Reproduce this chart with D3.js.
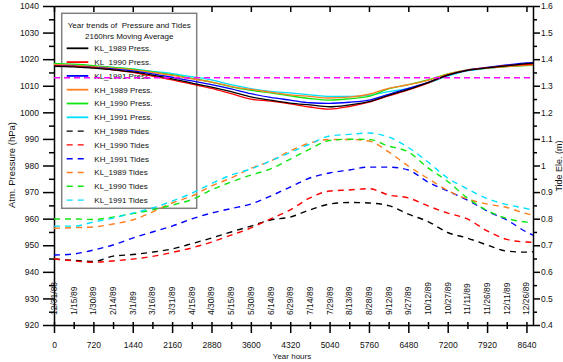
<!DOCTYPE html>
<html>
<head>
<meta charset="utf-8">
<script src="https://cdn.jsdelivr.net/npm/d3@7"></script>
<style>
  body { margin: 0; background: #fff; }
  text { font-family: "Liberation Sans", Arial, sans-serif; fill: #111; }
</style>
</head>
<body>
<div id="chart"></div>
<script>
// sample hours (every 15 days + year end)
const hours = [0, 360, 720, 1080, 1440, 1800, 2160, 2520, 2880, 3240, 3600, 3960, 4320,
  4680, 5040, 5400, 5760, 6120, 6480, 6840, 7200, 7560, 7920, 8280, 8640, 8760];

const dateLabels = ["12/31/88", "1/15/89", "1/30/89", "2/14/89", "3/1/89", "3/16/89", "3/31/89",
  "4/15/89", "4/30/89", "5/15/89", "5/30/89", "6/14/89", "6/29/89", "7/14/89", "7/29/89",
  "8/13/89", "8/28/89", "9/12/89", "9/27/89", "10/12/89", "10/27/89", "11/11/89", "11/26/89",
  "12/11/89", "12/26/89"];

// pressure, hPa (left axis)
const klPress1989 = [1017.3, 1017.1, 1016.6, 1016.0, 1015.2, 1014.0, 1012.6, 1011.0, 1009.5, 1007.8, 1005.8, 1004.6, 1003.5, 1002.8, 1002.1, 1002.8, 1004.0, 1006.4, 1008.6, 1011.2, 1014.0, 1015.8, 1016.7, 1017.5, 1018.3, 1018.5];
const klPress1990 = [1017.5, 1017.3, 1016.8, 1016.0, 1015.0, 1013.6, 1012.2, 1010.6, 1009.0, 1007.0, 1005.0, 1004.2, 1003.2, 1002.0, 1001.2, 1002.2, 1003.8, 1006.2, 1008.4, 1011.0, 1014.0, 1015.8, 1016.8, 1017.6, 1018.0, 1018.1];
const klPress1991 = [1017.6, 1017.4, 1016.9, 1016.3, 1015.6, 1014.5, 1013.2, 1011.8, 1010.4, 1008.8, 1007.0, 1005.6, 1004.6, 1003.6, 1003.4, 1003.8, 1004.6, 1006.8, 1009.0, 1011.3, 1014.0, 1015.9, 1016.9, 1017.8, 1018.6, 1018.7];
const khPress1989 = [1017.9, 1017.7, 1017.2, 1016.6, 1016.0, 1015.0, 1013.9, 1012.6, 1011.4, 1009.8, 1008.6, 1007.6, 1006.6, 1006.0, 1005.4, 1005.7, 1006.8, 1009.0, 1010.4, 1012.0, 1014.4, 1016.0, 1016.6, 1017.2, 1017.8, 1017.9];
const khPress1990 = [1018.4, 1018.1, 1017.6, 1016.9, 1016.2, 1015.2, 1014.2, 1012.8, 1011.4, 1009.6, 1008.3, 1007.3, 1006.2, 1005.2, 1004.6, 1005.1, 1006.0, 1008.8, 1010.4, 1012.2, 1014.5, 1016.0, 1016.6, 1017.2, 1017.6, 1017.7];
const khPress1991 = [1018.0, 1017.8, 1017.4, 1016.9, 1016.3, 1015.4, 1014.6, 1013.4, 1012.2, 1010.4, 1008.9, 1007.9, 1007.3, 1006.6, 1006.0, 1006.0, 1006.4, 1007.8, 1009.0, 1011.0, 1013.6, 1015.6, 1016.5, 1017.3, 1018.0, 1018.1];

// tide elevation, m (right axis)
const khTide1989 = [0.648, 0.643, 0.639, 0.659, 0.665, 0.674, 0.686, 0.706, 0.727, 0.750, 0.772, 0.795, 0.806, 0.833, 0.855, 0.861, 0.859, 0.849, 0.817, 0.789, 0.748, 0.727, 0.701, 0.678, 0.674, 0.676];
const khTide1990 = [0.649, 0.641, 0.636, 0.641, 0.648, 0.658, 0.673, 0.690, 0.712, 0.738, 0.765, 0.799, 0.833, 0.878, 0.904, 0.908, 0.913, 0.889, 0.878, 0.848, 0.821, 0.799, 0.754, 0.722, 0.712, 0.711];
const khTide1991 = [0.663, 0.667, 0.682, 0.701, 0.727, 0.750, 0.772, 0.799, 0.821, 0.838, 0.855, 0.885, 0.919, 0.953, 0.972, 0.983, 0.994, 0.994, 0.983, 0.938, 0.904, 0.870, 0.829, 0.795, 0.750, 0.738];
const klTide1989 = [0.764, 0.766, 0.769, 0.780, 0.795, 0.825, 0.859, 0.885, 0.923, 0.953, 0.989, 1.017, 1.055, 1.085, 1.098, 1.098, 1.092, 1.051, 0.998, 0.951, 0.906, 0.874, 0.855, 0.842, 0.819, 0.814];
const klTide1990 = [0.799, 0.799, 0.797, 0.806, 0.819, 0.833, 0.851, 0.872, 0.908, 0.938, 0.964, 0.987, 1.024, 1.062, 1.094, 1.099, 1.098, 1.073, 1.051, 0.991, 0.940, 0.878, 0.831, 0.801, 0.787, 0.785];
const klTide1991 = [0.772, 0.772, 0.787, 0.802, 0.821, 0.840, 0.866, 0.896, 0.932, 0.964, 0.987, 1.017, 1.049, 1.081, 1.111, 1.117, 1.122, 1.107, 1.068, 1.013, 0.953, 0.912, 0.876, 0.853, 0.838, 0.832];

const meanPressure = 1013;

const pressSeries = [
  { name: "KL_1989 Press.", values: klPress1989, color: "#000000" },
  { name: "KL_1990 Press.", values: klPress1990, color: "#ff0000" },
  { name: "KL_1991 Press.", values: klPress1991, color: "#0000ff" },
  { name: "KH_1989 Press.", values: khPress1989, color: "#ff7f1e" },
  { name: "KH_1990 Press.", values: khPress1990, color: "#11e611" },
  { name: "KH_1991 Press.", values: khPress1991, color: "#00e0ff" }
];
const tideSeries = [
  { name: "KH_1989 Tides", values: khTide1989, color: "#000000" },
  { name: "KH_1990 Tides", values: khTide1990, color: "#ff0000" },
  { name: "KH_1991 Tides", values: khTide1991, color: "#0000ff" },
  { name: "KL_1989 Tides", values: klTide1989, color: "#ff7f1e" },
  { name: "KL_1990 Tides", values: klTide1990, color: "#11e611" },
  { name: "KL_1991 Tides", values: klTide1991, color: "#00e0ff" }
];

const width = 563, height = 362;
const margin = { left: 54, right: 533, top: 6, bottom: 325 };

const svg = d3.select("#chart").append("svg")
  .attr("width", width)
  .attr("height", height);

const x = d3.scaleLinear().domain([0, 8760]).range([margin.left, margin.right]);
const yL = d3.scaleLinear().domain([920, 1040]).range([margin.bottom, margin.top]);
const yR = d3.scaleLinear().domain([0.4, 1.6]).range([margin.bottom, margin.top]);

// legend box (drawn first, lines run over it)
const legend = svg.append("g");
legend.append("rect")
  .attr("x", 61.7).attr("y", 13.3)
  .attr("width", 135).attr("height", 195)
  .attr("fill", "none")
  .attr("stroke", "#808080")
  .attr("stroke-width", 1.5);
legend.append("text").attr("x", 129.2).attr("y", 28.3)
  .attr("text-anchor", "middle").style("font-size", "8px")
  .style("white-space", "pre")
  .text("Year trends of  Pressure and Tides");
legend.append("text").attr("x", 129.2).attr("y", 39)
  .attr("text-anchor", "middle").style("font-size", "8px")
  .text("2160hrs Moving Average");

const legendItems = pressSeries.map(s => ({ ...s, dashed: false }))
  .concat(tideSeries.map(s => ({ ...s, dashed: true })));
legendItems.forEach((s, i) => {
  const ly = 48.3 + i * 13.8;
  legend.append("line")
    .attr("x1", 66.7).attr("x2", 88.3)
    .attr("y1", ly).attr("y2", ly)
    .attr("stroke", s.color)
    .attr("stroke-width", s.dashed ? 1.4 : 1.8)
    .attr("stroke-dasharray", s.dashed ? "6,5" : null);
  legend.append("text")
    .attr("x", 94.3).attr("y", ly)
    .attr("dy", "0.35em")
    .style("font-size", "8px")
    .text(s.name);
});

// axes
const axisFont = "8.5px";

const gLeft = svg.append("g").attr("transform", "translate(" + margin.left + ",0)");
gLeft.call(d3.axisLeft(yL).tickValues(d3.range(920, 1041, 10)).tickSize(11).tickPadding(4)
  .tickSizeOuter(0).tickFormat(d3.format("d")));
gLeft.selectAll("text").style("font-size", axisFont);
svg.append("g").attr("transform", "translate(" + margin.left + ",0)")
  .call(d3.axisLeft(yL).tickValues(d3.range(925, 1040, 10)).tickSize(5).tickFormat(""))
  .select(".domain").remove();

const gRight = svg.append("g").attr("transform", "translate(" + margin.right + ",0)");
gRight.call(d3.axisRight(yR).tickValues(d3.range(4, 17).map(d => d / 10))
  .tickSize(7).tickPadding(1).tickSizeOuter(0).tickFormat(d => String(+d.toFixed(1))));
gRight.selectAll("text").style("font-size", axisFont);
svg.append("g").attr("transform", "translate(" + margin.right + ",0)")
  .call(d3.axisRight(yR).tickValues(d3.range(4, 16).map(d => d / 10 + 0.05)).tickSize(4).tickFormat(""))
  .select(".domain").remove();

const gBottom = svg.append("g").attr("transform", "translate(0," + margin.bottom + ")");
gBottom.call(d3.axisBottom(x).tickValues(d3.range(0, 8641, 720)).tickSize(8).tickPadding(9)
  .tickSizeOuter(0).tickFormat(d3.format("d")));
gBottom.selectAll(".tick line").attr("y1", -3);
gBottom.selectAll("text").style("font-size", axisFont);
const gBottomMinor = svg.append("g").attr("transform", "translate(0," + margin.bottom + ")");
gBottomMinor.call(d3.axisBottom(x).tickValues(d3.range(360, 8641, 720)).tickSize(4).tickFormat(""));
gBottomMinor.select(".domain").remove();
gBottomMinor.selectAll(".tick line").attr("y1", -3);

const gTop = svg.append("g").attr("transform", "translate(0," + margin.top + ")");
gTop.call(d3.axisTop(x).tickValues(d3.range(0, 8641, 720)).tickSize(-6).tickFormat("").tickSizeOuter(0));

svg.selectAll(".domain, .tick line").attr("stroke", "#000").attr("stroke-width", 1.5);

// date labels along the bottom
svg.append("g").selectAll("text")
  .data(dateLabels)
  .enter().append("text")
    .attr("transform", (d, i) => "translate(" + x(i * 360) + ",315) rotate(-90)")
    .attr("dy", "0.35em")
    .style("font-size", "8.5px")
    .text(d => d);

// axis titles
svg.append("text")
  .attr("x", 292).attr("y", 358.5)
  .attr("text-anchor", "middle")
  .style("font-size", "8px")
  .text("Year hours");
svg.append("text")
  .attr("transform", "translate(12,165) rotate(-90)")
  .attr("text-anchor", "middle").attr("dy", "0.35em")
  .style("font-size", "9.5px")
  .text("Atm. Pressure (hPa)");
svg.append("text")
  .attr("transform", "translate(559,166) rotate(-90)")
  .attr("text-anchor", "middle").attr("dy", "0.35em")
  .style("font-size", "9px")
  .text("Tide Ele. (m)");

// series
const tideLine = d3.line()
  .x((d, i) => x(hours[i]))
  .y(d => yR(d))
  .curve(d3.curveMonotoneX);
const pressLine = d3.line()
  .x((d, i) => x(hours[i]))
  .y(d => yL(d))
  .curve(d3.curveMonotoneX);

svg.append("g").selectAll("path")
  .data(tideSeries)
  .enter().append("path")
    .attr("d", d => tideLine(d.values))
    .attr("fill", "none")
    .attr("stroke", d => d.color)
    .attr("stroke-width", 1.4)
    .attr("stroke-dasharray", "6,5");

svg.append("g").selectAll("path")
  .data(pressSeries.slice().reverse())
  .enter().append("path")
    .attr("d", d => pressLine(d.values))
    .attr("fill", "none")
    .attr("stroke", d => d.color)
    .attr("stroke-width", 1.3);

// mean sea level pressure
svg.append("line")
  .attr("x1", margin.left).attr("x2", margin.right)
  .attr("y1", yL(meanPressure)).attr("y2", yL(meanPressure))
  .attr("stroke", "#ff00ff")
  .attr("stroke-width", 1.5)
  .attr("stroke-dasharray", "6,4");
</script>
</body>
</html>
